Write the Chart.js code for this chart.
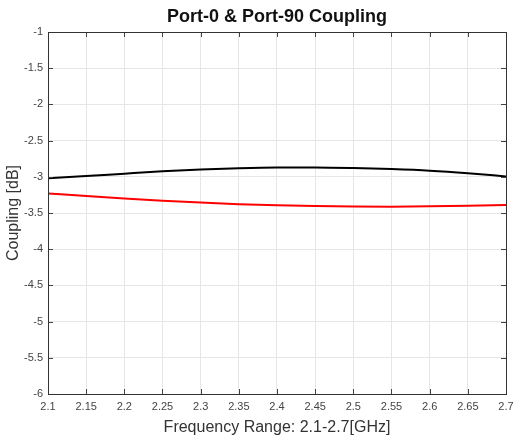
<!DOCTYPE html>
<html>
<head>
<meta charset="utf-8">
<script src="https://cdn.jsdelivr.net/npm/chart.js@4/dist/chart.umd.min.js"></script>
<style>
  body { margin: 0; background: #fff; }
  #wrap { width: 514px; height: 437px; position: relative; }
</style>
</head>
<body>
<div id="wrap"><canvas id="chart"></canvas></div>
<script>
// Data
const freqs  = [2.1, 2.15, 2.2, 2.25, 2.3, 2.35, 2.4, 2.45, 2.5, 2.55, 2.6, 2.65, 2.7];
const port0  = [-3.02, -2.99, -2.957, -2.925, -2.898, -2.881, -2.871, -2.87, -2.878, -2.893, -2.915, -2.95, -2.995];
const port90 = [-3.23, -3.266, -3.30, -3.33, -3.356, -3.378, -3.394, -3.404, -3.41, -3.412, -3.408, -3.40, -3.39];
const chartTitle = 'Port-0 & Port-90 Coupling';

const fmt = (v) => parseFloat(v.toFixed(2)).toString();
const FONT = 'Liberation Sans, Arial, sans-serif';

// Draw MATLAB-style inward ticks on all four sides, the box and the title
const matlabFrame = {
    id: 'matlabFrame',
    afterDraw(chart) {
        const ctx = chart.ctx;
        const a = chart.chartArea;
        const xs = chart.scales.x, ys = chart.scales.y;
        const len = 5;
        ctx.save();
        ctx.strokeStyle = '#444';
        ctx.lineWidth = 1;
        ctx.beginPath();
        xs.ticks.forEach((t) => {
            const px = Math.round(xs.getPixelForValue(t.value)) + 0.5;
            ctx.moveTo(px, a.bottom); ctx.lineTo(px, a.bottom - len);
            ctx.moveTo(px, a.top); ctx.lineTo(px, a.top + len);
        });
        ys.ticks.forEach((t) => {
            const py = Math.round(ys.getPixelForValue(t.value)) + 0.5;
            ctx.moveTo(a.left, py); ctx.lineTo(a.left + len, py);
            ctx.moveTo(a.right, py); ctx.lineTo(a.right - len, py);
        });
        ctx.stroke();
        ctx.strokeStyle = '#333';
        ctx.strokeRect(a.left + 0.5, a.top + 0.5, a.right - a.left, a.bottom - a.top);

        // title centred over the plot area like MATLAB
        ctx.fillStyle = '#111';
        ctx.font = 'bold 18px ' + FONT;
        ctx.textAlign = 'center';
        ctx.textBaseline = 'middle';
        ctx.fillText(chartTitle, (a.left + a.right) / 2, 17);
        ctx.restore();
    }
};

new Chart(document.getElementById('chart'), {
    type: 'line',
    data: {
        datasets: [
            {
                label: 'Port-0',
                data: freqs.map((f, i) => ({ x: f, y: port0[i] })),
                borderColor: '#000',
                borderWidth: 2,
                pointRadius: 0,
                cubicInterpolationMode: 'monotone'
            },
            {
                label: 'Port-90',
                data: freqs.map((f, i) => ({ x: f, y: port90[i] })),
                borderColor: '#ff0000',
                borderWidth: 2,
                pointRadius: 0,
                cubicInterpolationMode: 'monotone'
            }
        ]
    },
    options: {
        responsive: true,
        maintainAspectRatio: false,
        animation: false,
        layout: { padding: { left: 0, right: 0, top: 32, bottom: 0 } },
        plugins: {
            legend: { display: false },
            tooltip: { enabled: false },
            title: { display: false }
        },
        scales: {
            x: {
                type: 'linear',
                min: 2.1,
                max: 2.7,
                afterBuildTicks: (scale) => {
                    scale.ticks = freqs.map((f) => ({ value: f }));
                },
                afterFit: (scale) => {
                    scale.height = 43;
                    scale.paddingRight = 8;
                },
                grid: { color: '#e6e6e6', drawTicks: false },
                border: { display: false },
                ticks: {
                    padding: 6,
                    maxRotation: 0,
                    autoSkip: false,
                    color: '#444',
                    font: { family: FONT, size: 11 },
                    callback: (v) => fmt(v)
                },
                title: {
                    display: true,
                    text: 'Frequency Range: 2.1-2.7[GHz]',
                    color: '#333',
                    padding: { top: 1, bottom: 0 },
                    font: { family: FONT, size: 16 }
                }
            },
            y: {
                min: -6,
                max: -1,
                afterFit: (scale) => {
                    scale.width = 48;
                    scale.paddingTop = 0;
                },
                grid: { color: '#e6e6e6', drawTicks: false },
                border: { display: false },
                ticks: {
                    stepSize: 0.5,
                    padding: 5,
                    color: '#444',
                    font: { family: FONT, size: 11 },
                    callback: (v) => fmt(v)
                },
                title: {
                    display: true,
                    text: 'Coupling [dB]',
                    color: '#333',
                    padding: { top: 4, bottom: 0 },
                    font: { family: FONT, size: 16 }
                }
            }
        }
    },
    plugins: [matlabFrame]
});
</script>
</body>
</html>
